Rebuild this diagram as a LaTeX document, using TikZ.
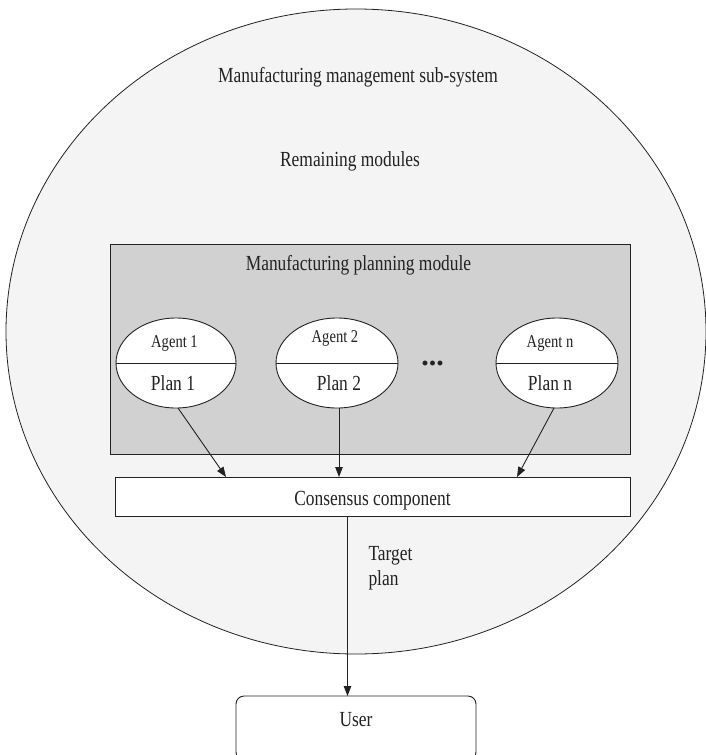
\documentclass[tikz,border=0pt]{standalone}
\usepackage{fontspec}
\setmainfont[FakeStretch=0.81]{Liberation Serif}
\newfontfamily\dotfont{Liberation Serif}
\usetikzlibrary{shapes.geometric,arrows.meta,calc}
\definecolor{sysfill}{HTML}{F4F4F4}
\definecolor{modfill}{HTML}{D0D1D0}
\definecolor{ink}{HTML}{222222}
\begin{document}
\begin{tikzpicture}[x=1pt,y=-1pt,
  txt/.style={font=\fontsize{21.5}{25}\selectfont, text=ink, inner sep=0, anchor=base},
  agenttxt/.style={font=\fontsize{18}{21}\selectfont, text=ink, inner sep=0, anchor=base},
  agentbox/.style={ellipse, draw=ink, fill=white, line width=0.9pt,
    minimum height=90pt, inner sep=0, outer sep=0},
  box/.style={draw=ink, line width=0.9pt, inner sep=0, outer sep=0},
  arr/.style={draw=ink, line width=0.9pt, -{Triangle[length=10pt,width=7.5pt]}}]
\useasboundingbox (0,0) rectangle (706,755);

% manufacturing management sub-system
\node[ellipse, draw=ink, fill=sysfill, line width=0.8pt, inner sep=0, outer sep=0,
  minimum width=700pt, minimum height=645pt] (sys) at (356,331.5) {};
\node[txt] (systitle) at (358,82.7) {Manufacturing management sub-system};
\node[txt] (rest) at (350,166.7) {Remaining modules};

% planning module
\node[box, fill=modfill, minimum width=520pt, minimum height=210pt] (mpm) at (370,349) {};
\node[txt] (mpmtitle) at (358.5,270) {Manufacturing planning module};

% agents with their plans
\node[agentbox, minimum width=120pt] (a1) at (176,363) {};
\node[agentbox, minimum width=122pt] (a2) at (337,363) {};
\node[agentbox, minimum width=122pt] (an) at (557,363) {};
\foreach \a in {a1,a2,an} \draw[ink, line width=0.9pt] (\a.west) -- (\a.east);
\node[agenttxt] (a1name) at (174.5,347.7) {Agent 1};
\node[agenttxt] (a2name) at (335,342.5) {Agent 2};
\node[agenttxt] (anname) at (550,347.7) {Agent n};
\node[txt] (a1plan) at (173,390) {Plan 1};
\node[txt] (a2plan) at (339,390) {Plan 2};
\node[txt] (anplan) at (550,390) {Plan n};
\node[font=\dotfont\fontsize{30}{32}\selectfont\bfseries, text=ink, inner sep=0, anchor=base]
  (dots) at (432.5,365.5) {...};

% consensus component
\node[box, fill=white, minimum width=514.5pt, minimum height=39pt] (cons) at (372.75,496.5) {};
\node[txt] (constxt) at (372.5,505) {Consensus component};

% user
\node[box, fill=white, rounded corners=8pt, minimum width=240pt, minimum height=64pt] (user) at (356,728) {};
\node[txt] (usertxt) at (356,726) {User};

% connectors
\draw[arr] ($(a1.south)+(2,0)$) -- ($(cons.north west)+(110.5,0)$);
\draw[arr] ($(a2.south)+(2,0)$) -- ($(cons.north west)+(223.5,0)$);
\draw[arr] ($(an.south)+(-3,0)$) -- ($(cons.north west)+(401.5,0)$);
\draw[arr] ($(cons.south west)+(232,0)$) -- ($(user.north west)+(111.5,0)$);
\node[txt, anchor=base west] (tgt1) at (368.3,560.7) {Target};
\node[txt, anchor=base west] (tgt2) at (368.3,585) {plan};
\end{tikzpicture}
\end{document}
